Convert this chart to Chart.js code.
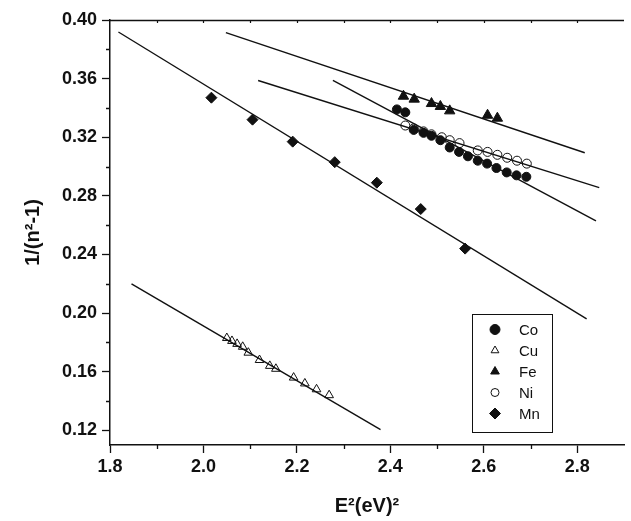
<!DOCTYPE html>
<html><head><meta charset="utf-8">
<script src="https://cdn.jsdelivr.net/npm/chart.js@4.4.1/dist/chart.umd.min.js"></script>
<style>html,body{margin:0;padding:0;background:#fff;}#wrap{width:631px;height:521px;}</style>
</head><body><div id="wrap"><canvas id="c" width="631" height="521"></canvas></div>
<script>
// ---- data ----
const coX = [2.414, 2.432, 2.450, 2.471, 2.488, 2.507, 2.527, 2.547, 2.566, 2.587, 2.607, 2.627, 2.649, 2.670, 2.691];
const coY = [0.339, 0.337, 0.325, 0.323, 0.321, 0.318, 0.313, 0.310, 0.307, 0.304, 0.302, 0.299, 0.296, 0.294, 0.293];
const cuX = [2.050, 2.061, 2.072, 2.084, 2.096, 2.120, 2.142, 2.155, 2.193, 2.217, 2.242, 2.269];
const cuY = [0.183, 0.181, 0.179, 0.177, 0.173, 0.168, 0.164, 0.162, 0.156, 0.152, 0.148, 0.144];
const feX = [2.428, 2.451, 2.488, 2.507, 2.527, 2.608, 2.629];
const feY = [0.348, 0.346, 0.343, 0.341, 0.338, 0.335, 0.333];
const niX = [2.432, 2.450, 2.471, 2.488, 2.510, 2.527, 2.548, 2.587, 2.608, 2.629, 2.650, 2.671, 2.692];
const niY = [0.328, 0.326, 0.324, 0.322, 0.320, 0.318, 0.316, 0.311, 0.310, 0.308, 0.306, 0.304, 0.302];
const mnX = [2.017, 2.105, 2.191, 2.281, 2.371, 2.465, 2.560];
const mnY = [0.347, 0.332, 0.317, 0.303, 0.289, 0.271, 0.244];
// fitted straight lines (end points)
const coFitX = [2.277, 2.840]; const coFitY = [0.3588, 0.263];
const cuFitX = [1.846, 2.379]; const cuFitY = [0.220, 0.1205];
const feFitX = [2.048, 2.816]; const feFitY = [0.3914, 0.3094];
const niFitX = [2.117, 2.847]; const niFitY = [0.3587, 0.2856];
const mnFitX = [1.818, 2.820]; const mnFitY = [0.3918, 0.196];
// axes
const xTicks = [1.8, 2.0, 2.2, 2.4, 2.6, 2.8];
const xMinor = [1.9, 2.1, 2.3, 2.5, 2.7, 2.9];
const yTicks = [0.12, 0.16, 0.20, 0.24, 0.28, 0.32, 0.36, 0.40];
const yMinor = [0.14, 0.18, 0.22, 0.26, 0.30, 0.34, 0.38];
const seriesNames = ['Co', 'Cu', 'Fe', 'Ni', 'Mn'];

const FONT = '"Liberation Sans", Arial, Helvetica, sans-serif';
const INK = '#111';
const pts = (xs, ys) => xs.map((x, i) => ({x: x, y: ys[i]}));

const styles = {
  Co: {pointStyle: 'circle', radius: 4.5, fill: INK},
  Cu: {pointStyle: 'triangle', radius: 5, fill: 'rgba(0,0,0,0)'},
  Fe: {pointStyle: 'triangle', radius: 6, fill: INK},
  Ni: {pointStyle: 'circle', radius: 4.5, fill: 'rgba(0,0,0,0)'},
  Mn: {pointStyle: 'rectRot', radius: 5.5, fill: INK}
};
const seriesData = {Co: pts(coX, coY), Cu: pts(cuX, cuY), Fe: pts(feX, feY), Ni: pts(niX, niY), Mn: pts(mnX, mnY)};

const scatterSets = seriesNames.map(n => ({
  label: n,
  data: seriesData[n],
  showLine: false,
  pointStyle: styles[n].pointStyle,
  pointRadius: styles[n].radius,
  pointBackgroundColor: styles[n].fill,
  pointBorderColor: INK,
  pointBorderWidth: 1
}));
const fitSets = [[coFitX, coFitY], [cuFitX, cuFitY], [feFitX, feFitY], [niFitX, niFitY], [mnFitX, mnFitY]].map((f, i) => ({
  label: 'fit ' + seriesNames[i],
  data: pts(f[0], f[1]),
  showLine: true,
  borderColor: INK,
  borderWidth: 1.4,
  pointRadius: 0,
  fill: false
}));

function marker(ctx, style, r, fill, x, y) {
  ctx.save();
  ctx.beginPath();
  if (style === 'circle') {
    ctx.arc(x, y, r, 0, Math.PI * 2);
  } else if (style === 'triangle') {
    ctx.moveTo(x, y - r);
    ctx.lineTo(x + r * 0.866, y + r / 2);
    ctx.lineTo(x - r * 0.866, y + r / 2);
    ctx.closePath();
  } else {
    ctx.moveTo(x - r, y); ctx.lineTo(x, y - r); ctx.lineTo(x + r, y); ctx.lineTo(x, y + r); ctx.closePath();
  }
  ctx.fillStyle = fill; ctx.fill();
  ctx.strokeStyle = INK; ctx.lineWidth = 1; ctx.stroke();
  ctx.restore();
}

const decor = {
  id: 'decor',
  afterDraw(chart) {
    const ctx = chart.ctx, a = chart.chartArea, xs = chart.scales.x, ys = chart.scales.y;
    ctx.save();
    ctx.strokeStyle = INK; ctx.lineWidth = 1.3;
    // minor ticks
    ctx.beginPath();
    xMinor.forEach(v => { const p = Math.round(xs.getPixelForValue(v)) + 0.5; if (p <= a.right) { ctx.moveTo(p, a.bottom); ctx.lineTo(p, a.bottom + 4); } });
    yMinor.forEach(v => { const p = Math.round(ys.getPixelForValue(v)) + 0.5; ctx.moveTo(a.left, p); ctx.lineTo(a.left - 4, p); });
    ctx.stroke();
    // top frame line with small inward ticks
    ctx.lineWidth = 1.5;
    ctx.beginPath(); ctx.moveTo(a.left, a.top + 0.5); ctx.lineTo(a.right, a.top + 0.5); ctx.stroke();
    ctx.lineWidth = 1.2;
    ctx.beginPath();
    xTicks.concat(xMinor).forEach(v => { const p = Math.round(xs.getPixelForValue(v)) + 0.5; if (p > a.left + 2 && p < a.right) { ctx.moveTo(p, a.top); ctx.lineTo(p, a.top + 3); } });
    ctx.stroke();
    // legend box
    const L = 472.5, T = 314.5, W = 80, H = 118;
    ctx.lineWidth = 1;
    ctx.strokeRect(L, T, W, H);
    ctx.font = '15px ' + FONT;
    ctx.fillStyle = INK; ctx.textBaseline = 'middle'; ctx.textAlign = 'left';
    const legendR = {Co: 5, Cu: 4.5, Fe: 5, Ni: 4, Mn: 5.5};
    chart.data.datasets.slice(0, seriesNames.length).forEach((ds, i) => {
      const y = 329.5 + i * 21;
      const st = styles[ds.label];
      marker(ctx, st.pointStyle === 'rectRot' ? 'diamond' : st.pointStyle, legendR[ds.label], st.fill === INK ? INK : '#fff', 495, y);
      ctx.fillStyle = INK;
      ctx.fillText(ds.label, 519, y + 1);
    });
    ctx.restore();
  }
};

Chart.defaults.font.family = FONT;
Chart.defaults.color = INK;

new Chart(document.getElementById('c'), {
  type: 'scatter',
  data: {datasets: scatterSets.concat(fitSets)},
  options: {
    responsive: false,
    animation: false,
    devicePixelRatio: 1,
    layout: {padding: {top: 20, right: 0, left: 0, bottom: 0}},
    plugins: {legend: {display: false}, tooltip: {enabled: false}},
    scales: {
      x: {
        type: 'linear', position: 'bottom', min: 1.8, max: 2.9,
        afterBuildTicks: s => { s.ticks = xTicks.map(v => ({value: v})); },
        afterFit: s => { s.height = 76; },
        ticks: {font: {size: 18, weight: 'bold'}, color: INK, padding: 3, maxRotation: 0, autoSkip: false,
          callback: v => Number(v).toFixed(1)},
        grid: {drawOnChartArea: false, drawTicks: true, tickLength: 8, tickWidth: 1.3, tickColor: INK},
        border: {display: true, color: INK, width: 1.5},
        title: {display: true, text: 'E²(eV)²', font: {size: 20, weight: 'bold'}, color: INK, padding: {top: 0, bottom: 3}}
      },
      y: {
        type: 'linear', position: 'left', min: 0.11, max: 0.40,
        afterBuildTicks: s => { s.ticks = yTicks.map(v => ({value: v})); },
        afterFit: s => { s.width = 110; },
        ticks: {font: {size: 18, weight: 'bold'}, color: INK, padding: 5, autoSkip: false,
          callback: v => Number(v).toFixed(2)},
        grid: {drawOnChartArea: false, drawTicks: true, tickLength: 8, tickWidth: 1.3, tickColor: INK},
        border: {display: true, color: INK, width: 1.5},
        title: {display: true, text: '1/(n²-1)', font: {size: 20, weight: 'bold'}, color: INK, padding: {top: 21, bottom: 0}}
      }
    }
  },
  plugins: [decor]
});
</script></body></html>
